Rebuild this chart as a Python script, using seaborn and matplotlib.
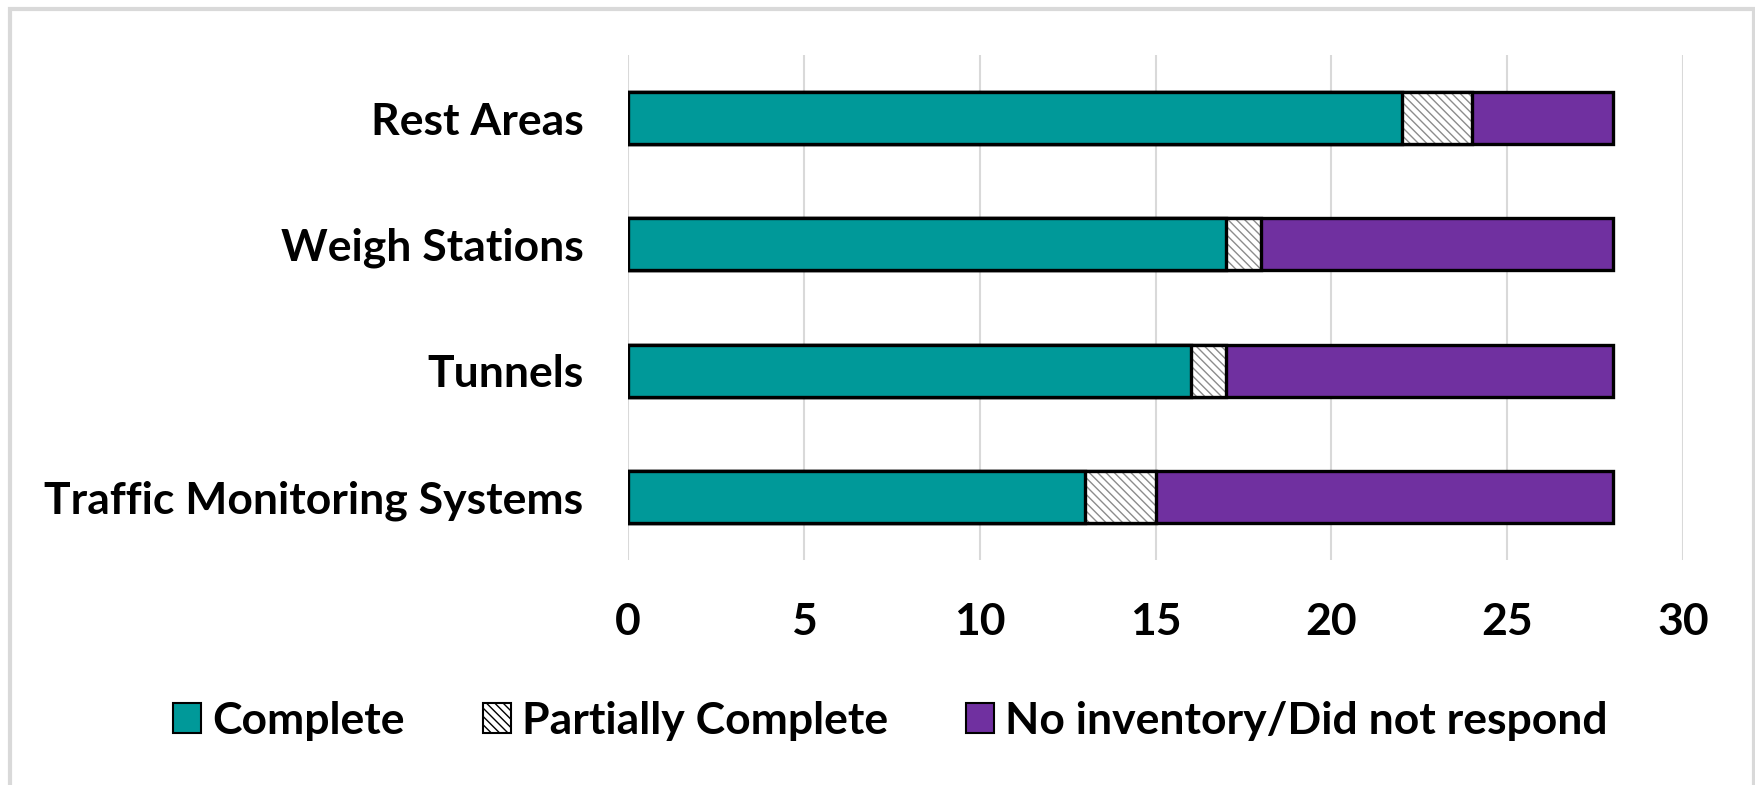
import matplotlib
matplotlib.use("Agg")
import matplotlib.pyplot as plt
from matplotlib.patches import Rectangle, Patch
import seaborn as sns
import pandas as pd
import numpy as np

categories = ["Rest Areas", "Weigh Stations", "Tunnels", "Traffic Monitoring Systems"]
complete = [22, 17, 16, 13]
partial = [2, 1, 1, 2]
no_inventory = [4, 10, 11, 13]
series_names = ["Complete", "Partially Complete", "No inventory/Did not respond"]
x_ticks = [0, 5, 10, 15, 20, 25, 30]

TEAL = "#009999"
PURPLE = "#7030A0"
HATCH_GRAY = "#8c8c8c"
GRID = "#d9d9d9"
FS = 32

sns.set_theme(style="white")
plt.rcParams["font.family"] = ["Lato", "DejaVu Sans"]
plt.rcParams["font.weight"] = "bold"
plt.rcParams["text.color"] = "black"
plt.rcParams["hatch.linewidth"] = 1.0

df = pd.DataFrame({
    "category": categories,
    "complete": complete,
    "partial": partial,
    "none": no_inventory,
})
df["upto_partial"] = df["complete"] + df["partial"]
df["total"] = df["upto_partial"] + df["none"]

fig = plt.figure(figsize=(17.56, 7.85), dpi=100)
ax = fig.add_axes([0.3575, 0.2866, 0.9586 - 0.3575, 0.930 - 0.2866])

bar_w = 0.41
edge_lw = 2.4

# stacked bars drawn back to front as cumulative totals
sns.barplot(data=df, y="category", x="total", orient="h", color=PURPLE,
            saturation=1, width=bar_w, edgecolor="black", linewidth=edge_lw,
            ax=ax, zorder=2)
sns.barplot(data=df, y="category", x="upto_partial", orient="h", color="white",
            saturation=1, width=bar_w, edgecolor=HATCH_GRAY, linewidth=0,
            hatch="\\\\\\\\", ax=ax, zorder=3)
sns.barplot(data=df, y="category", x="upto_partial", orient="h", fill=False,
            width=bar_w, edgecolor="black", linewidth=edge_lw, ax=ax, zorder=4)
sns.barplot(data=df, y="category", x="complete", orient="h", color=TEAL,
            saturation=1, width=bar_w, edgecolor="black", linewidth=edge_lw,
            ax=ax, zorder=5)

ax.set_xlim(0, 30)
ax.set_ylim(3.5, -0.5)
ax.set_xticks(x_ticks)
ax.set_xticklabels([str(t) for t in x_ticks])
ax.xaxis.grid(True, color=GRID, linewidth=1.5, zorder=0)
ax.yaxis.grid(False)
ax.set_axisbelow(True)
for s in ax.spines.values():
    s.set_visible(False)
ax.set_xlabel("")
ax.set_ylabel("")
ax.tick_params(axis="x", length=0, pad=30, labelsize=FS, labelcolor="black")
ax.tick_params(axis="y", length=0, pad=32, labelsize=FS, labelcolor="black")
for lab in ax.get_xticklabels() + ax.get_yticklabels():
    lab.set_fontweight("bold")

handles = [
    Patch(facecolor=TEAL, edgecolor="black", linewidth=1.5),
    Patch(facecolor="white", edgecolor="black", linewidth=1.5, hatch="\\\\\\\\"),
    Patch(facecolor=PURPLE, edgecolor="black", linewidth=1.5),
]
leg = fig.legend(handles, series_names, loc="center", bbox_to_anchor=(0.507, 0.082),
                 ncol=3, frameon=False, handlelength=0.63,
                 handleheight=0.63, handletextpad=0.25, columnspacing=1.75,
                 borderaxespad=0, prop={"weight": "bold", "size": FS})
for t in leg.get_texts():
    t.set_color("black")

# light outer frame around the chart area
fig.add_artist(Rectangle((10 / 1756, -0.05), (1754 - 10) / 1756, 1 - 9 / 785 + 0.05,
                         transform=fig.transFigure, fill=False,
                         edgecolor=GRID, linewidth=3, zorder=0))

fig.savefig("out.png", dpi=100, facecolor="white")
